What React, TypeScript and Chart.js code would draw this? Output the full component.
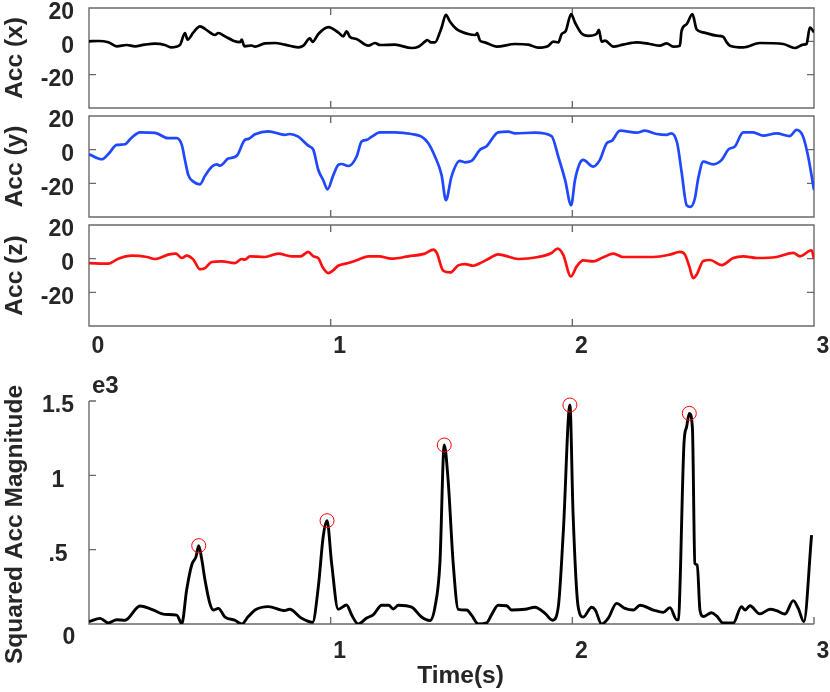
import { Chart, registerables } from "chart.js"
import React, { useEffect, useRef } from "react"

Chart.register(...registerables)

// acceleration along x (time in s, value)
const accXTime = [
  0, 0.04, 0.08, 0.115, 0.156, 0.19, 0.23, 0.273, 0.314, 0.339, 0.376, 0.397, 0.408, 0.432, 0.459, 0.494,
  0.521, 0.535, 0.563, 0.597, 0.625, 0.632, 0.643, 0.673, 0.687, 0.728, 0.77, 0.81, 0.866, 0.887, 0.914,
  0.925, 0.949, 0.99, 1.031, 1.052, 1.066, 1.08, 1.107, 1.156, 1.183, 1.204, 1.266, 1.335, 1.363, 1.39,
  1.4, 1.415, 1.432, 1.452, 1.459, 1.477, 1.494, 1.521, 1.569, 1.6, 1.606, 1.618, 1.638, 1.687, 1.763,
  1.818, 1.859, 1.9, 1.921, 1.942, 1.956, 1.972, 1.995, 2.011, 2.038, 2.066, 2.1, 2.11, 2.121, 2.135,
  2.17, 2.21, 2.266, 2.32, 2.362, 2.39, 2.418, 2.445, 2.452, 2.473, 2.497, 2.514, 2.542, 2.597, 2.624,
  2.639, 2.652, 2.707, 2.776, 2.873, 2.921, 2.955, 2.969, 2.983, 3.0,
]
const accXValue = [
  0, 0.2, -0.6, -3, -2.2, -3, -2, -1.4, -2.2, -3.6, -2.2, 5, 1, 5.4, 9, 6,
  3.8, 5, 3, 0.4, -0.5, 1, -3, -2.5, -3.2, -1.2, -1, -2, -3.6, -2.6, 1.8,
  -0.3, 4.4, 8.5, 5.4, 3, 6, 2.6, 1.4, -2.6, -1, -2.2, -2, -4, -3.2, -0.2,
  0.8, -0.6, -0.6, 5.4, 8.3, 15.9, 11.7, 7.3, 4.4, 3.8, 5, 0.4, -0.6, -3.2, -1.6,
  -2, -3.8, -2.8, -0.2, -0.6, 4.4, 6, 16.3, 11.3, 4.8, 3.3, 4.4, 6.9, -0.2, 0.4,
  -3.2, -2, -0.6, -1.6, -2.6, -1.2, -3.2, -2.6, 6.3, 10.3, 16.3, 7.3, 5.4, 3.4, 2.8,
  -0.6, -2.6, -3.6, -1, -1.6, -4, -2, -1.6, 8.3, 5.4,
]

// acceleration along y
const accYTime = [
  0, 0.053, 0.08, 0.115, 0.149, 0.174, 0.211, 0.273, 0.328, 0.363, 0.384, 0.397, 0.411, 0.432, 0.459,
  0.48, 0.508, 0.528, 0.542, 0.576, 0.611, 0.645, 0.66, 0.687, 0.742, 0.81, 0.83, 0.866, 0.907, 0.928,
  0.949, 0.969, 0.987, 1.011, 1.031, 1.045, 1.073, 1.107, 1.128, 1.149, 1.17, 1.204, 1.266, 1.335, 1.376,
  1.404, 1.432, 1.459, 1.477, 1.5, 1.534, 1.555, 1.583, 1.618, 1.645, 1.693, 1.735, 1.763, 1.845, 1.914,
  1.942, 1.97, 1.995, 2.011, 2.031, 2.045, 2.086, 2.114, 2.142, 2.163, 2.197, 2.266, 2.3, 2.349, 2.39,
  2.41, 2.434, 2.452, 2.473, 2.489, 2.507, 2.521, 2.542, 2.583, 2.618, 2.645, 2.673, 2.707, 2.748, 2.79,
  2.845, 2.9, 2.928, 2.955, 2.976, 3.0,
]
const accYValue = [
  -2.7, -5.7, -2.6, 2.8, 3.2, 6.8, 10.3, 10, 6.8, 6.8, 2.8, -6.1, -15.1, -19, -20.6,
  -15.5, -10.1, -8.7, -9.5, -5.3, -3.7, 5.8, 6.4, 9.1, 10.9, 8.8, 9.3, 7.7, 2.4, 0,
  -12.1, -18, -23.6, -15.1, -9.1, -8.5, -9.7, -4.2, 4.8, 5.8, 7.7, 10.3, 10.3, 9.3, 7.7,
  3.8, -4.2, -15.1, -30, -16, -6.7, -7.5, -6.7, 0, 2, 10.3, 10.7, 9.7, 10.1, 8.1,
  -4.2, -18, -33, -18, -8.1, -6.1, -10.1, -6.1, 3.8, 5.2, 11.3, 10.1, 11.3, 9.3, 8.8,
  9.7, 3.8, -13.1, -33, -34, -29, -17, -7.1, -8.7, -6.1, 0, 2, 10.3, 10.3, 8.3,
  9.7, 8.1, 11.7, 7.7, -4.2, -24,
]

// acceleration along z
const accZTime = [
  0, 0.08, 0.121, 0.177, 0.24, 0.273, 0.328, 0.36, 0.384, 0.404, 0.432, 0.459, 0.48, 0.508, 0.55,
  0.604, 0.632, 0.645, 0.666, 0.728, 0.783, 0.838, 0.875, 0.907, 0.928, 0.948, 0.969, 0.99, 1.01, 1.031,
  1.073, 1.114, 1.156, 1.2, 1.252, 1.321, 1.39, 1.425, 1.439, 1.466, 1.494, 1.528, 1.555, 1.59, 1.625,
  1.652, 1.693, 1.72, 1.776, 1.859, 1.914, 1.939, 1.962, 1.994, 2.018, 2.045, 2.086, 2.128, 2.17, 2.21,
  2.335, 2.404, 2.445, 2.466, 2.484, 2.5, 2.514, 2.542, 2.57, 2.618, 2.666, 2.707, 2.763, 2.845, 2.914,
  2.942, 2.99, 3.0,
]
const accZValue = [
  -2.6, -3, 0, 1.8, 1, -0.2, 2.4, 3, 0.4, 1.8, -0.6, -6.2, -5.6, -2, -1.6,
  -2.6, -0.2, -0.6, 1.4, 1, 3, 1.4, 1.4, 4, 1.4, 0.4, -5.6, -8.6, -7, -4.2,
  -2.6, -0.6, 1.4, 1.4, 0, 1.4, 3, 5.4, 3.4, -7.2, -8.2, -4, -3.2, -4.2, -2.2,
  -0.2, 2.6, 1.8, -0.2, 1, 3.4, 6, 2.4, -10.6, -4.6, -1, -1.6, 0.8, 3, 1,
  1, 2.4, 4, 2.4, -4.6, -11.6, -9.6, -1.4, -0.8, -3.8, 0.4, 1.4, 0.4, 1, 3.4,
  1.4, 5, -0.2,
]

// squared acceleration magnitude
const magTime = [
  0, 0.046, 0.08, 0.115, 0.149, 0.211, 0.259, 0.314, 0.363, 0.384, 0.404, 0.425, 0.443, 0.454, 0.466,
  0.48, 0.5, 0.515, 0.535, 0.563, 0.604, 0.632, 0.659, 0.687, 0.742, 0.81, 0.83, 0.88, 0.925, 0.949,
  0.969, 0.985, 1.004, 1.031, 1.066, 1.087, 1.114, 1.149, 1.177, 1.211, 1.24, 1.259, 1.28, 1.335, 1.376,
  1.411, 1.432, 1.452, 1.47, 1.486, 1.507, 1.528, 1.563, 1.583, 1.611, 1.645, 1.666, 1.693, 1.728, 1.749,
  1.804, 1.845, 1.887, 1.918, 1.942, 1.963, 1.99, 2.003, 2.024, 2.045, 2.08, 2.095, 2.121, 2.149, 2.183,
  2.218, 2.252, 2.28, 2.335, 2.376, 2.404, 2.432, 2.44, 2.445, 2.462, 2.473, 2.484, 2.497, 2.507, 2.517,
  2.528, 2.542, 2.576, 2.597, 2.624, 2.666, 2.7, 2.715, 2.735, 2.776, 2.818, 2.845, 2.88, 2.914, 2.935,
  2.958, 2.99,
]
const magValue = [
  16, 38, 7, 29, 25, 121, 99, 65, 60, 2, 229, 397, 453, 527, 440,
  296, 139, 94, 105, 47, 25, 0, 50, 94, 117, 90, 99, 38, 11, 251,
  587, 695, 408, 99, 128, 60, 0, 40, 63, 126, 126, 101, 126, 113, 47,
  23, 117, 408, 1204, 968, 408, 99, 94, 60, 0, 7, 63, 126, 123, 94,
  99, 113, 72, 25, 117, 632, 1473, 744, 117, 47, 113, 94, 0, 40, 139,
  105, 94, 126, 94, 78, 110, 29, 30, 229, 1215, 1327, 1417, 1316, 408, 397,
  94, 50, 76, 54, 7, 7, 117, 94, 123, 68, 99, 90, 67, 157, 105,
  16, 598,
]

// detected peaks (circled)
const peakTime = [0.454, 0.985, 1.47, 1.99, 2.484]
const peakValue = [527, 695, 1204, 1473, 1417]

const timeTicks = [0, 1, 2, 3]
const accTicks = [-20, 0, 20]
const magTicks = [0, 500, 1000, 1500]
const magTickLabels = ["", ".5", "1", "1.5"]

const FONT = "'Liberation Sans', Arial, sans-serif"
const TEXT = "#262626"
const AXIS_COLOR = "#6a6a6a"
const TICK_LEN = 7
const tickFont = { family: FONT, size: 23, weight: "bold" as const }
const titleFont = { family: FONT, size: 24.5, weight: "bold" as const }

const toPoints = (times: number[], values: number[]) => times.map((t, i) => ({ x: t, y: values[i] }))

// MATLAB style box / axes with inward ticks
function matlabAxes(box: boolean, extras?: (chart: Chart) => void) {
  return {
    id: "matlabAxes",
    beforeDatasetsDraw(chart: Chart) {
      const { ctx, chartArea: a } = chart
      const xs = chart.scales.x
      const ys = chart.scales.y
      ctx.save()
      ctx.strokeStyle = AXIS_COLOR
      ctx.lineWidth = 1.4
      ctx.beginPath()
      if (box) {
        ctx.rect(a.left, a.top, a.right - a.left, a.bottom - a.top)
      } else {
        ctx.moveTo(a.left, a.top)
        ctx.lineTo(a.left, a.bottom)
        ctx.lineTo(a.right, a.bottom)
      }
      for (const t of xs.ticks) {
        const x = xs.getPixelForValue(t.value)
        ctx.moveTo(x, a.bottom)
        ctx.lineTo(x, a.bottom - TICK_LEN)
        if (box) {
          ctx.moveTo(x, a.top)
          ctx.lineTo(x, a.top + TICK_LEN)
        }
      }
      for (const t of ys.ticks) {
        const y = ys.getPixelForValue(t.value)
        ctx.moveTo(a.left, y)
        ctx.lineTo(a.left + TICK_LEN, y)
        if (box) {
          ctx.moveTo(a.right, y)
          ctx.lineTo(a.right - TICK_LEN, y)
        }
      }
      ctx.stroke()
      ctx.restore()
    },
    afterDraw(chart: Chart) {
      if (extras) extras(chart)
    },
  }
}

const accConfig = (
  label: string,
  times: number[],
  values: number[],
  color: string,
  padTop: number,
  padBottom: number,
  showTime: boolean
): any => ({
  type: "line",
  data: {
    datasets: [
      {
        data: toPoints(times, values),
        borderColor: color,
        borderWidth: 2.7,
        pointRadius: 0,
        cubicInterpolationMode: "monotone",
        borderJoinStyle: "round",
      },
    ],
  },
  options: {
    responsive: false,
    animation: false,
    layout: { padding: { top: padTop, bottom: padBottom, left: 0, right: 16 } },
    plugins: { legend: { display: false }, tooltip: { enabled: false } },
    scales: {
      x: {
        type: "linear",
        min: 0,
        max: 3,
        afterBuildTicks: (s: any) => {
          s.ticks = timeTicks.map((v) => ({ value: v }))
        },
        grid: { display: false, drawTicks: false },
        border: { display: false },
        ticks: { display: showTime, autoSkip: false, maxRotation: 0, padding: 7, labelOffset: 9, font: tickFont, color: TEXT },
        afterFit: (s: any) => {
          s.height = showTime ? 34 : 0
          s.paddingLeft = 0
          s.paddingRight = 0
        },
      },
      y: {
        type: "linear",
        min: -40,
        max: 20,
        afterBuildTicks: (s: any) => {
          s.ticks = accTicks.map((v) => ({ value: v }))
        },
        grid: { display: false, drawTicks: false },
        border: { display: false },
        ticks: { autoSkip: false, padding: 15, labelOffset: 5, font: tickFont, color: TEXT },
        title: { display: true, text: label, font: titleFont, color: TEXT, padding: { top: 1, bottom: 0 } },
        afterFit: (s: any) => {
          s.width = 89
          s.paddingTop = 0
          s.paddingBottom = 0
        },
      },
    },
  },
  plugins: [matlabAxes(true)],
})

// exponent, corner zero and the axis titles of the magnitude panel
const drawMagExtras = (chart: Chart) => {
  const { ctx, chartArea: a } = chart
  const ys = chart.scales.y
  ctx.save()
  ctx.fillStyle = TEXT
  ctx.textBaseline = "middle"
  ctx.font = `bold 24px ${FONT}`
  ctx.textAlign = "left"
  ctx.fillText("e3", a.left + 3, a.top - 15)
  ctx.font = `bold 23px ${FONT}`
  ctx.textAlign = "center"
  ctx.fillText("0", a.left - 20, ys.getPixelForValue(0) + 14)
  ctx.font = `bold 24.5px ${FONT}`
  ctx.fillText("Time(s)", (a.left + a.right) / 2 + 9, chart.height - 16)
  ctx.translate(15, (a.top + a.bottom) / 2 + 12)
  ctx.rotate(-Math.PI / 2)
  ctx.fillText("Squared Acc Magnitude", 0, 0)
  ctx.restore()
}

const magConfig = (): any => ({
  type: "line",
  data: {
    datasets: [
      {
        data: toPoints(peakTime, peakValue),
        showLine: false,
        pointRadius: 7,
        pointBorderColor: "#ff0000",
        pointBackgroundColor: "rgba(0,0,0,0)",
        pointBorderWidth: 1,
        clip: false,
      },
      {
        data: toPoints(magTime, magValue),
        borderColor: "#000000",
        borderWidth: 2.9,
        pointRadius: 0,
        cubicInterpolationMode: "monotone",
        borderJoinStyle: "round",
      },
    ],
  },
  options: {
    responsive: false,
    animation: false,
    layout: { padding: { top: 41, bottom: 0, left: 0, right: 16 } },
    plugins: { legend: { display: false }, tooltip: { enabled: false } },
    scales: {
      x: {
        type: "linear",
        min: 0,
        max: 3,
        afterBuildTicks: (s: any) => {
          s.ticks = timeTicks.map((v) => ({ value: v }))
        },
        grid: { display: false, drawTicks: false },
        border: { display: false },
        ticks: {
          autoSkip: false,
          maxRotation: 0,
          padding: 14,
          labelOffset: 9,
          font: tickFont,
          color: TEXT,
          callback: (v: any) => (v === 0 ? "" : String(v)),
        },
        afterFit: (s: any) => {
          s.height = 68
          s.paddingLeft = 0
          s.paddingRight = 0
        },
      },
      y: {
        type: "linear",
        min: 0,
        max: 1500,
        afterBuildTicks: (s: any) => {
          s.ticks = magTicks.map((v) => ({ value: v }))
        },
        grid: { display: false, drawTicks: false },
        border: { display: false },
        ticks: {
          autoSkip: false,
          padding: 15,
          crossAlign: "center",
          labelOffset: 5,
          font: tickFont,
          color: TEXT,
          callback: (v: any) => magTickLabels[magTicks.indexOf(Number(v))] ?? "",
        },
        afterFit: (s: any) => {
          s.width = 89
          s.paddingTop = 0
          s.paddingBottom = 0
        },
      },
    },
  },
  plugins: [matlabAxes(false, drawMagExtras)],
})

const Panel: React.FC<{ top: number; height: number; config: () => any }> = ({ top, height, config }) => {
  const canvasRef = useRef<HTMLCanvasElement>(null)

  useEffect(() => {
    const ctx = canvasRef.current?.getContext("2d")
    if (!ctx) return
    const chart = new Chart(ctx, config())
    return () => {
      chart.destroy()
    }
  }, [])

  return (
    <canvas
      ref={canvasRef}
      width={830}
      height={height}
      style={{ position: "absolute", left: 0, top, width: 830, height }}
    />
  )
}

const App: React.FC = () => {
  return (
    <div style={{ position: "absolute", left: 0, top: 0, width: 830, height: 692, background: "#fff" }}>
      <Panel top={0} height={120} config={() => accConfig("Acc (x)", accXTime, accXValue, "#000000", 8, 12, false)} />
      <Panel top={100} height={125} config={() => accConfig("Acc (y)", accYTime, accYValue, "#1f48ff", 16, 8, false)} />
      <Panel top={208} height={152} config={() => accConfig("Acc (z)", accZTime, accZValue, "#ff1010", 17, 0, true)} />
      <Panel top={360} height={332} config={magConfig} />
    </div>
  )
}

export default App
